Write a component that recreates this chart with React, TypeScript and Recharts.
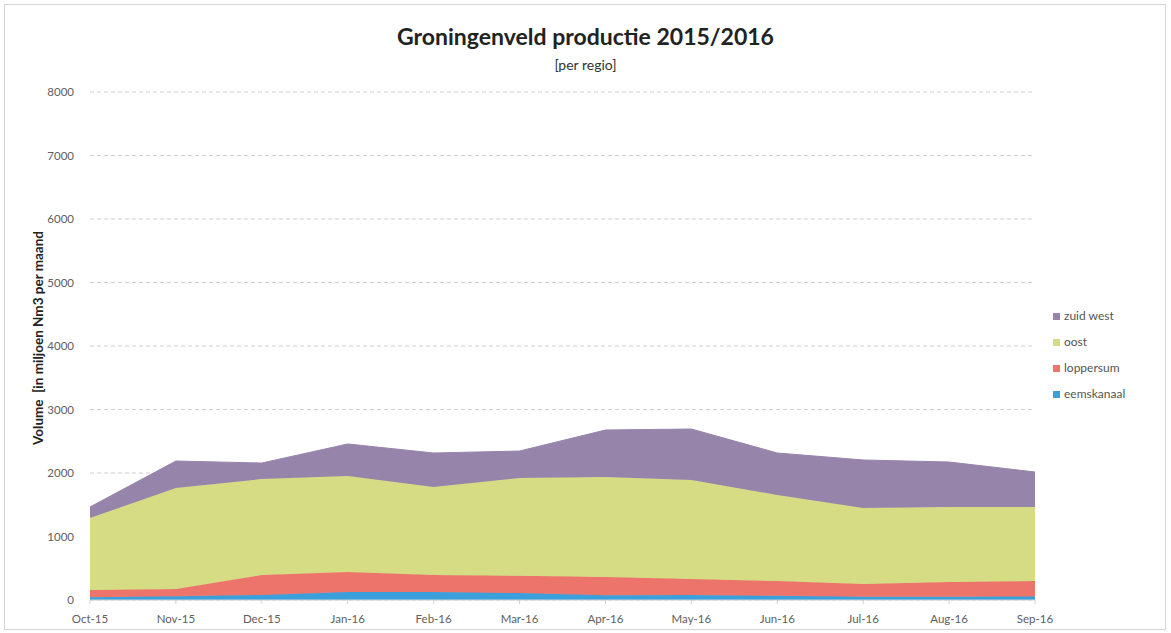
import { Area, AreaChart, CartesianGrid, XAxis, YAxis } from 'recharts';

const months = ['Oct-15', 'Nov-15', 'Dec-15', 'Jan-16', 'Feb-16', 'Mar-16', 'Apr-16', 'May-16', 'Jun-16', 'Jul-16', 'Aug-16', 'Sep-16'];
const eemskanaal = [45, 60, 80, 125, 125, 110, 75, 80, 65, 50, 50, 55];
const loppersum = [112, 115, 314, 316, 269, 270, 287, 251, 234, 202, 233, 244];
const oost = [1134, 1589, 1511, 1512, 1386, 1541, 1575, 1559, 1355, 1197, 1182, 1166];
const zuidWest = [174, 425, 252, 504, 535, 425, 740, 803, 661, 756, 708, 551];
const yTicks = [0, 1000, 2000, 3000, 4000, 5000, 6000, 7000, 8000];

const series = [
  { key: 'eemskanaal', color: '#3a9fdb' },
  { key: 'loppersum', color: '#ec746a' },
  { key: 'oost', color: '#d5dc83' },
  { key: 'zuid west', color: '#9784ab' },
];

const data = months.map((m, i) => ({
  month: m,
  eemskanaal: eemskanaal[i],
  loppersum: loppersum[i],
  oost: oost[i],
  'zuid west': zuidWest[i],
}));

const font = 'Lato, "Open Sans", sans-serif';
const tick = { fontSize: 11.5, fill: '#606060', fontFamily: font };

export default function App() {
  return (
    <div style={{ position: 'absolute', left: 0, top: 0, width: 1171, height: 633, background: '#fff', fontFamily: font }}>
      <div style={{ position: 'absolute', left: 4, top: 4, width: 1160, height: 624, border: '1px solid #d4d4d4' }} />
      <div style={{ position: 'absolute', left: 0, width: 1171, top: 22, textAlign: 'center', fontSize: 23, fontWeight: 700, color: '#222' }}>
        Groningenveld productie 2015/2016
      </div>
      <div style={{ position: 'absolute', left: 0, width: 1171, top: 56, textAlign: 'center', fontSize: 14, color: '#333' }}>
        [per regio]
      </div>
      <div
        style={{
          position: 'absolute', left: 38, top: 338, transform: 'translate(-50%, -50%) rotate(-90deg)',
          whiteSpace: 'nowrap', fontSize: 13.5, fontWeight: 700, color: '#222',
        }}
      >
        Volume&nbsp;&nbsp;[in miljoen Nm3 per maand
      </div>
      <AreaChart width={1171} height={633} data={data} margin={{ top: 92, right: 136, bottom: 3, left: 30 }} style={{ position: 'absolute', left: 0, top: 0 }}>
        <CartesianGrid vertical={false} stroke="#cfcfcf" strokeDasharray="4 3" />
        <XAxis dataKey="month" height={30} tick={tick} tickMargin={11} tickSize={4} stroke="#d0d0d0" interval={0} />
        <YAxis width={60} domain={[0, 8000]} ticks={yTicks} tick={tick} axisLine={false} tickLine={false} tickMargin={10} />
        {series.map((s) => (
          <Area
            key={s.key}
            type="linear"
            dataKey={s.key}
            stackId="1"
            stroke={s.color}
            fill={s.color}
            fillOpacity={1}
            isAnimationActive={false}
          />
        ))}
      </AreaChart>
      <div style={{ position: 'absolute', left: 1053, top: 303, fontSize: 12, color: '#555', lineHeight: '26px' }}>
        {[...series].reverse().map((s) => (
          <div key={s.key} style={{ display: 'flex', alignItems: 'center' }}>
            <span style={{ width: 7, height: 7, background: s.color, marginRight: 4, display: 'inline-block' }} />
            {s.key}
          </div>
        ))}
      </div>
    </div>
  );
}
